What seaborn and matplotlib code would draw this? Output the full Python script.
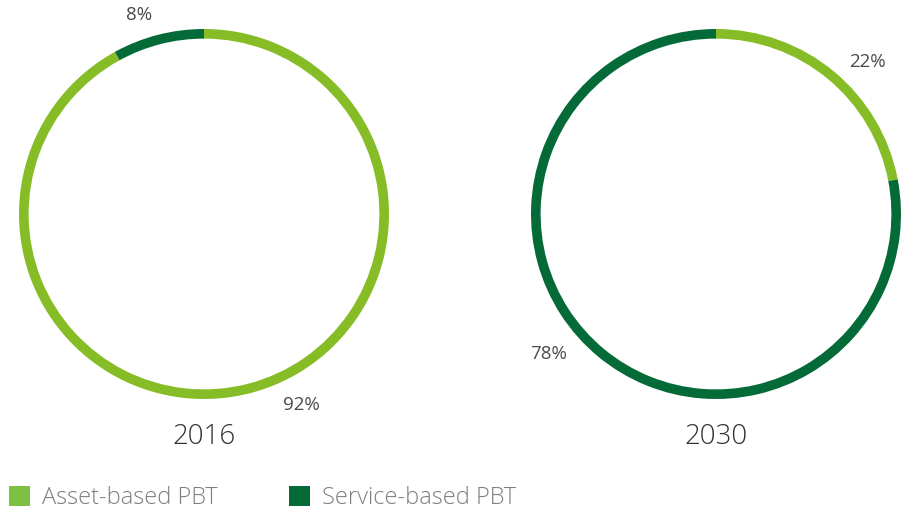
import numpy as np
import matplotlib
matplotlib.use('Agg')
import matplotlib.pyplot as plt
import seaborn as sns
from matplotlib.patches import Patch

# Data
categories = ['Asset-based PBT', 'Service-based PBT']
years = ['2016', '2030']
shares_2016 = [92, 8]
shares_2030 = [22, 78]

sns.set_theme(style='white')
plt.rcParams['font.family'] = ['Open Sans', 'DejaVu Sans']

ring_colors = ['#86BC25', '#046A38']
legend_colors = ['#7DC142', '#046A38']
# angle (deg) and distance of each percent label, per ring
label_pos = [[(-63, 1.16), (108, 1.13)], [(45, 1.16), (220, 1.18)]]

fig = plt.figure(figsize=(9.06, 5.11), dpi=100)
centers = [204, 716]
R = 185
for i, (year, shares) in enumerate(zip(years, [shares_2016, shares_2030])):
    cx = centers[i]
    ax = fig.add_axes([(cx - R) / 906, (511 - 214 - R) / 511, 2 * R / 906, 2 * R / 511])
    ax.pie(shares, colors=ring_colors, startangle=90, counterclock=False,
           radius=1, wedgeprops=dict(width=0.052, linewidth=0))
    ax.set_xlim(-1, 1)
    ax.set_ylim(-1, 1)
    ax.set_aspect('auto')
    ax.axis('off')
    for val, (ang, dist) in zip(shares, label_pos[i]):
        a = np.deg2rad(ang)
        ax.text(dist * np.cos(a), dist * np.sin(a), f'{val}%', ha='center', va='center',
                fontsize=13.5, color='#4a4a4a', clip_on=False)
    fig.text(cx / 906, 1 - 437 / 511, year, ha='center', va='center',
             fontsize=20, color='#333333', fontweight='light')

handles = [Patch(facecolor=c, edgecolor='none') for c in legend_colors]
leg = fig.legend(handles, categories, loc='lower left', bbox_to_anchor=(9 / 906, 1 / 511),
                 ncol=2, frameon=False, handlelength=0.9, handleheight=0.9,
                 handletextpad=0.5, columnspacing=3.0, borderpad=0, borderaxespad=0,
                 labelcolor='#7f7f7f', prop={'weight': 'light', 'size': 17})

fig.savefig('out.png', dpi=100, facecolor='white')
